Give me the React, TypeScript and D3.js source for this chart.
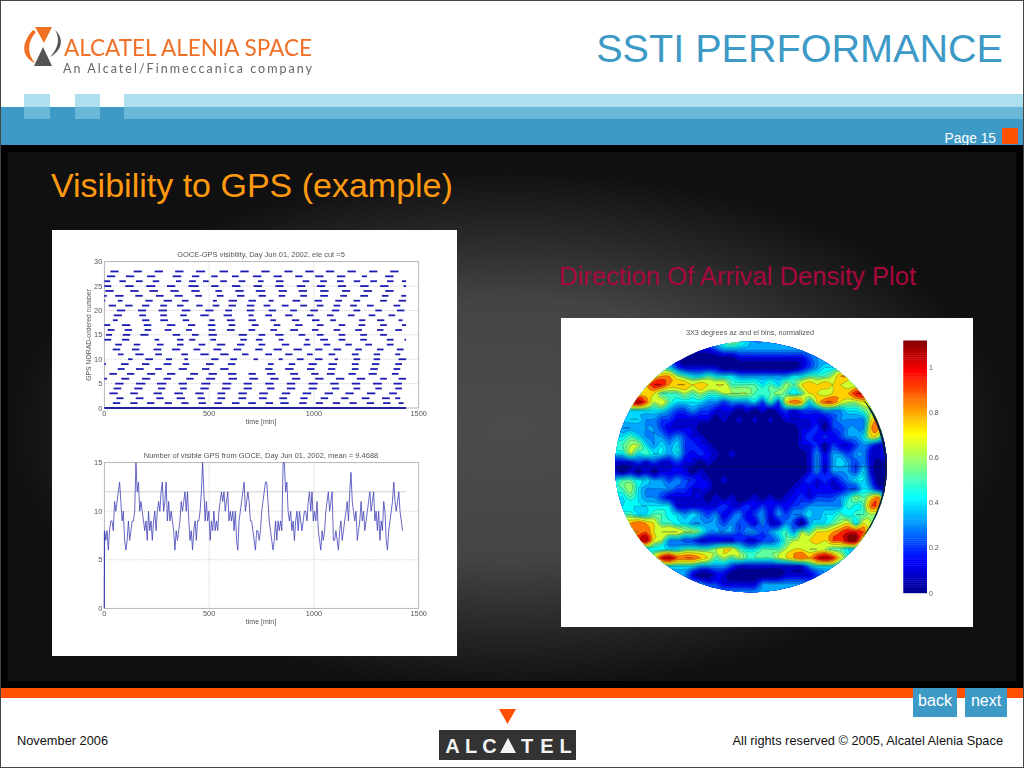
import React from "react";
import * as d3 from "d3";

const FONT = "'Liberation Sans', Arial, sans-serif";

// Satellite number -> flat list of [start, end, start, end ...] visibility windows in minutes
const sat01 = [41,76,124,159,204,239,288,323,368,402,450,485,525,561,609,645,687,723,770,805,840,880,930,965,1009,1043,1090,1125,1170,1204,1252,1287,1330,1365,1404,1428];
const sat02 = [58,92,150,187,248,283,345,385,445,480,540,577,640,677,738,775,835,872,935,970,1032,1068,1130,1165,1228,1265,1325,1362,1388,1412];
const sat03 = [24,64,124,160,235,275,334,375,434,474,540,577,640,680,739,780,847,887,946,987,1051,1091,1150,1190,1253,1293,1359,1396];
const sat04 = [45,81,143,183,256,291,362,394,458,498,561,601,665,704,776,812,871,911,975,1014,1086,1121,1189,1221,1293,1324,1388,1420];
const sat05 = [52,92,151,196,251,296,355,394,463,506,564,606,665,704,768,808,871,911,975,1018,1078,1118,1181,1221,1282,1324,1380,1420];
const sat06 = [0,13,81,119,180,219,283,318,391,426,485,529,593,633,692,733,792,832,895,935,1006,1046,1105,1145,1205,1245,1316,1348,1404,1440];
const sat07 = [24,60,108,143,204,243,299,339,410,447,498,537,590,630,688,723,776,816,887,924,987,1022,1062,1099,1165,1200,1261,1300,1372,1404];
const sat08 = [64,97,151,188,243,275,355,394,466,501,553,593,768,803,863,903,967,1003,1067,1102,1181,1213,1269,1305,1380,1412];
const sat09 = [0,8,80,116,180,215,283,320,374,405,485,522,590,625,781,808,880,911,975,1014,1070,1110,1181,1213,1277,1312,1388,1420];
const sat10 = [113,135,196,232,294,323,382,399,510,545,601,633,712,733,832,851,919,951,1006,1041,1099,1115,1189,1221,1285,1316,1404,1440];
const sat11 = [65,92,148,188,243,275,367,399,458,498,553,593,657,688,768,800,863,898,967,994,1070,1102,1181,1213,1285,1316,1388,1412];
const sat12 = [40,76,132,167,235,272,323,362,426,458,521,558,617,653,720,755,808,847,903,943,1006,1041,1094,1130,1197,1229,1301,1332,1396,1428];
const sat13 = [52,84,140,172,251,283,347,378,450,482,537,577,633,669,736,768,847,882,951,983,1046,1078,1150,1181,1245,1277,1348,1380];
const sat14 = [0,33,84,119,240,262,347,378,405,434,506,533,649,680,723,755,832,855,959,978,1030,1067,1118,1150,1221,1253,1348,1380,1432,1440];
const sat15 = [8,37,88,124,172,211,326,362,418,450,498,537,641,680,736,768,816,855,927,959,1014,1046,1118,1150,1221,1253,1316,1348];
const sat16 = [16,49,97,132,192,224,288,320,390,418,498,530,585,622,688,720,792,824,887,924,991,1022,1094,1126,1197,1229,1301,1332,1388,1420];
const sat17 = [0,28,84,124,188,224,299,339,399,434,494,530,593,625,704,736,808,840,911,946,1014,1046,1118,1150,1213,1245,1316,1348,1420,1440];
const sat18 = [41,64,180,215,267,304,374,405,501,526,585,622,688,723,792,819,895,930,991,1027,1078,1105,1216,1245,1301,1336,1404,1423];
const sat19 = [45,84,167,199,267,299,362,394,458,498,569,609,688,712,768,800,863,898,967,998,1062,1094,1162,1194,1261,1293,1356,1388];
const sat20 = [60,100,161,199,259,299,370,410,482,521,577,609,680,716,784,819,887,919,983,1019,1086,1121,1189,1221,1293,1324,1396,1432];
const sat21 = [21,56,100,135,180,215,267,299,347,378,439,469,517,549,593,628,680,716,760,792,847,879,935,967,1014,1046,1094,1126,1173,1205,1253,1285,1380,1412];
const sat22 = [0,5,65,87,196,231,283,323,370,402,518,537,593,633,688,723,784,808,898,935,1003,1038,1102,1134,1189,1221,1316,1348,1404,1440];
const sat23 = [0,12,52,92,148,183,246,283,335,374,434,466,537,569,633,669,736,771,832,863,935,967,1030,1067,1126,1158,1221,1258,1324,1356,1417,1440];
const sat24 = [5,45,124,164,215,256,315,355,415,455,530,561,625,665,723,768,832,871,927,967,1030,1070,1134,1173,1237,1277,1340,1380];
const sat25 = [0,33,100,140,200,243,299,338,402,450,510,545,609,649,712,752,816,855,919,959,1014,1054,1115,1153,1221,1261,1316,1356,1428,1440];
const sat26 = [0,28,72,103,151,183,231,262,342,367,405,437,471,498,553,585,641,673,733,760,819,855,946,978,1030,1062,1110,1142,1190,1221,1269,1301,1349,1380,1420,1440];
const sat27 = [13,52,103,143,204,243,326,367,418,453,510,541,609,641,709,749,808,847,911,946,1006,1046,1110,1150,1229,1253,1340,1380];
const sat28 = [29,68,140,179,240,280,338,378,438,481,550,590,649,689,749,789,859,898,959,999,1057,1097,1160,1200,1264,1303,1364,1404];
const satellites = [sat01,sat02,sat03,sat04,sat05,sat06,sat07,sat08,sat09,sat10,sat11,sat12,sat13,sat14,sat15,sat16,sat17,sat18,sat19,sat20,sat21,sat22,sat23,sat24,sat25,sat26,sat27,sat28];

// Number of visible GPS, one sample every 6 minutes
const visibleCount = [8,7,8,6,8,9,9,8,11,10,11,12,13,11,9,10,7,6,7,9,7,8,9,9,10,15,12,13,10,11,10,9,8,9,7,10,8,9,7,9,10,8,10,11,10,12,13,10,11,13,9,11,9,10,9,8,6,8,7,8,9,11,10,11,12,10,12,9,7,8,6,8,9,7,9,9,10,12,15,12,9,11,9,10,7,9,8,10,8,9,8,10,11,12,11,12,10,11,12,9,10,9,10,8,10,7,6,9,10,11,12,13,10,11,12,11,9,9,8,7,6,8,8,7,8,10,11,12,13,13,11,9,8,7,6,7,9,7,9,8,9,8,15,15,12,13,10,9,10,8,9,7,9,10,8,10,9,8,9,10,10,9,11,12,10,12,9,10,9,11,8,7,6,8,7,8,10,11,12,10,11,12,7,7,8,7,6,8,9,7,8,9,10,11,9,12,14,11,10,9,10,7,8,9,11,9,10,8,9,10,11,12,10,11,12,9,10,8,10,7,9,8,11,10,7,6,8,9,10,11,13,11,10,11,12,10,9,8];
const sampleMinutes = 6;

const density = [
[3,3,3,3,3,3,3,3,3,3,3,3,3,4,5,6,5,4,3,3,3,3,3,3,3,3,3,3,3,3,3,3,3,3,3,3],
[3,3,3,3,3,3,3,3,3,1,1,1,1,2,3,3,3,3,3,3,3,3,3,3,3,3,3,3,3,3,3,3,3,3,3,3],
[3,3,3,3,3,3,3,3,1,0,0,0,0,0,0,0,1,1,1,1,1,1,1,1,1,2,3,3,3,3,3,3,3,3,3,3],
[4,4,4,4,4,5,5,4,2,1,1,1,1,1,0,0,0,0,0,0,0,0,0,0,1,2,3,4,4,5,6,6,4,4,4,4],
[6,6,6,6,7,7,8,8,6,5,4,4,5,4,4,4,3,3,3,3,3,3,3,4,4,5,5,5,6,8,8,6,5,4,4,4],
[7,7,7,7,8,10,10,8,8,8,7,8,7,7,7,5,5,5,5,4,5,4,6,5,7,8,7,8,7,7,6,6,5,5,4,4],
[8,8,7,7,7,7,5,5,5,6,5,6,5,5,6,6,6,6,5,5,5,6,5,4,5,7,7,6,7,8,8,10,10,7,5,5],
[9,9,10,11,9,6,7,5,4,4,4,4,3,3,2,3,3,3,4,2,5,2,7,9,8,4,7,9,9,7,6,6,7,7,5,5],
[5,5,4,4,4,4,4,3,2,2,3,2,2,1,1,1,0,1,0,1,0,1,2,1,2,2,2,3,3,3,4,4,5,6,6,6],
[5,4,4,4,3,3,2,2,1,1,1,1,1,0,1,0,1,0,1,0,1,0,1,1,1,1,1,1,2,3,3,3,3,7,8,3],
[4,3,3,3,3,3,2,1,1,1,1,0,0,0,0,0,0,0,0,0,0,0,0,0,1,1,2,0,2,2,3,3,3,8,8,3],
[4,4,5,4,3,3,3,2,3,2,1,1,0,0,0,0,0,0,0,0,0,0,0,0,1,2,1,2,1,2,3,3,4,7,6,2],
[5,5,6,6,4,3,4,3,4,2,2,1,1,0,0,0,0,0,0,0,0,0,0,0,1,1,2,0,2,1,1,2,3,2,1,2],
[4,4,6,4,5,4,4,3,4,2,1,2,1,1,0,1,0,0,0,0,0,0,0,0,0,1,3,1,3,3,2,3,3,1,1,2],
[1,1,1,2,1,2,1,1,2,1,1,0,1,0,0,0,0,0,0,0,0,0,0,0,0,1,3,1,3,4,3,2,3,1,0,1],
[1,0,1,0,1,0,1,1,1,1,0,1,0,0,0,0,0,0,0,0,0,0,0,0,0,1,3,1,3,3,3,2,4,1,0,1],
[4,5,5,4,4,3,3,2,3,2,2,1,1,0,1,0,0,0,0,0,0,0,0,0,1,2,1,2,1,2,3,4,4,2,0,1],
[5,5,6,4,3,3,3,3,2,2,1,1,1,0,0,0,0,0,0,0,0,0,0,1,1,1,1,1,1,1,2,2,4,3,1,1],
[4,4,5,4,3,3,2,1,1,1,1,1,0,1,0,1,0,0,1,0,1,0,1,1,2,1,2,2,2,3,4,6,5,7,8,2],
[4,4,4,4,4,4,4,4,1,1,1,1,1,1,2,1,1,2,1,2,1,2,1,2,2,3,3,3,3,3,5,4,5,9,8,2],
[5,5,5,4,4,5,5,4,4,3,4,3,2,3,1,2,3,1,2,3,1,3,2,3,3,4,3,4,4,5,4,5,5,6,5,3],
[8,8,8,9,8,7,5,5,4,4,3,3,3,3,2,3,2,2,1,3,1,1,3,2,0,3,4,4,5,6,7,4,7,6,4,3],
[8,8,8,8,9,7,7,7,7,6,6,5,3,3,3,3,2,3,3,2,3,4,5,3,6,5,7,7,8,9,10,10,9,5,4,3],
[9,9,9,10,11,7,6,3,3,2,2,1,1,1,1,1,2,1,1,2,2,3,5,6,6,7,8,7,9,9,11,11,6,5,4,3],
[4,4,4,4,4,4,4,4,4,5,5,5,5,6,7,7,5,4,4,5,5,5,6,7,7,6,6,6,5,5,4,4,4,3,3,3],
[5,5,5,5,6,7,10,11,9,9,9,8,7,5,6,5,6,5,5,5,5,6,7,8,9,8,10,11,10,7,5,4,4,4,4,4],
[4,4,4,4,4,4,4,4,4,4,4,3,3,3,3,2,1,1,1,1,1,1,1,1,1,3,4,4,4,3,3,3,3,3,3,3],
[3,3,3,3,3,3,3,3,3,3,1,0,0,1,1,0,0,0,0,0,0,0,1,1,1,1,2,3,3,3,3,3,3,3,3,3],
[3,3,3,3,3,3,3,3,3,3,3,3,2,2,1,1,1,1,1,3,3,3,3,3,3,3,3,3,3,3,3,3,3,3,3,3],
[3,3,3,3,3,3,3,3,3,3,3,3,3,3,3,3,3,3,3,3,3,3,3,3,3,3,3,3,3,3,3,3,3,3,3,3],
];
const contourLevels = [0.5,1,1.5,2,2.5,3,3.5,4,4.5,5,5.5,6,7,8,9,10,11];
const colorbarTicks = [0,0.2,0.4,0.6,0.8,1];
const colorbarMax = 1.12;
const jetStops = ["#00008f","#0000ff","#00ffff","#ffff00","#ff0000","#800000"];
const jetPositions = [0,1/8,3/8,5/8,7/8,1];

const timeTicks = [0,500,1000,1500];
const satTicks = [0,5,10,15,20,25,30];
const countTicks = [0,5,10,15];
const logoLetters = ["A","L","C","T","E","L"];
const logoLetterX = [452.5,471,489.5,527,547,565.5];

const BLUE = "#3d9ac6";
const ORANGE = "#ff5000";

const jet = d3.scaleLinear<string>().domain(jetPositions.map(p => p * colorbarMax)).range(jetStops).clamp(true);

// Catmull-Rom resampling of the density grid so that its contours are round, not polygonal
function catmull(a: number, b: number, c: number, d: number, t: number) {
  return 0.5 * (2 * b + (c - a) * t + (2 * a - 5 * b + 4 * c - d) * t * t + (3 * b - a - 3 * c + d) * t * t * t);
}
function resample(grid: number[][], f: number) {
  const rows = grid.length, cols = grid[0].length;
  const get = (r: number, c: number) => grid[Math.max(0, Math.min(rows - 1, r))][Math.max(0, Math.min(cols - 1, c))];
  const w = (cols - 1) * f + 1, h = (rows - 1) * f + 1;
  const out: number[] = [];
  for (let j = 0; j < h; j++) {
    const r = Math.floor(j / f), tr = j / f - r;
    for (let i = 0; i < w; i++) {
      const c = Math.floor(i / f), tc = i / f - c;
      const col = [-1, 0, 1, 2].map(dr => catmull(get(r + dr, c - 1), get(r + dr, c), get(r + dr, c + 1), get(r + dr, c + 2), tc));
      out.push(catmull(col[0], col[1], col[2], col[3], tr));
    }
  }
  return { w, h, out };
}

function Frame({ x, y, xTicks, yTicks, title, titleY, ink = "#555" }: any) {
  const [x0, x1] = x.range();
  const [y0, y1] = y.range();
  return (
    <g fontFamily={FONT} fill={ink} fontSize={7.4}>
      {xTicks.slice(1, -1).map((t: number) => <line key={t} x1={x(t)} x2={x(t)} y1={y0} y2={y1} stroke="#bbb" strokeWidth={0.6} strokeDasharray="1.2 1" />)}
      {yTicks.slice(1, -1).map((t: number) => <line key={t} x1={x0} x2={x1} y1={y(t)} y2={y(t)} stroke="#bbb" strokeWidth={0.6} strokeDasharray="1.2 1" />)}
      <rect x={x0} y={y1} width={x1 - x0} height={y0 - y1} fill="none" stroke="#999" strokeWidth={0.7} />
      {xTicks.map((t: number) => <text key={t} x={x(t)} y={y0 + 7.5} textAnchor="middle">{t}</text>)}
      {yTicks.map((t: number) => <text key={t} x={x0 - 2} y={y(t) + 2.5} textAnchor="end">{t}</text>)}
      <text x={(x0 + x1) / 2 - 0.5} y={y0 + 15.5} textAnchor="middle" fontSize={7}>time [min]</text>
      <text x={(x0 + x1) / 2 - 0.5} y={titleY} textAnchor="middle" fontSize={7.5}>{title}</text>
    </g>
  );
}

function VisibilityChart() {
  const x = d3.scaleLinear().domain([0, 1500]).range([104.3, 418.7]);
  const y = d3.scaleLinear().domain([0, 30]).range([408, 261.7]);
  return (
    <g>
      <Frame x={x} y={y} xTicks={timeTicks} yTicks={satTicks} title="GOCE-GPS visibility, Day Jun 01, 2002, ele cut =5" titleY={257} />
      {satellites.map((windows, i) =>
        d3.range(0, windows.length, 2).map(k => (
          <line key={`${i}-${k}`} x1={x(windows[k])} x2={x(windows[k + 1])} y1={y(i + 1)} y2={y(i + 1)} stroke="#1c1cb4" strokeWidth={1.8} />
        ))
      )}
      <line x1={x(0)} x2={x(1440)} y1={y(0)} y2={y(0)} stroke="#2020a0" strokeWidth={2} />
      <text transform={`translate(90.5,335) rotate(-90)`} textAnchor="middle" fontFamily={FONT} fontSize={6.8} fill="#555">GPS NORAD-ordered number</text>
    </g>
  );
}

function CountChart() {
  const x = d3.scaleLinear().domain([0, 1500]).range([104.3, 418.7]);
  const y = d3.scaleLinear().domain([0, 15]).range([608.3, 462.7]);
  const line = d3.line<number>().x((_, i) => x(i * sampleMinutes + 1)).y(v => y(v));
  return (
    <g>
      <Frame x={x} y={y} xTicks={timeTicks} yTicks={countTicks} title="Number of visible GPS from GOCE, Day Jun 01, 2002, mean = 9.4688" titleY={458} />
      <line x1={x(0)} x2={x(1440)} y1={y(12)} y2={y(12)} stroke="#bbb" strokeWidth={0.7} />
      <path d={`M${x(0)},${y(0)}L${x(1)},${y(visibleCount[0])}`} stroke="#4040b8" strokeWidth={1.2} fill="none" />
      <path d={line(visibleCount) ?? ""} stroke="#4040b8" strokeWidth={0.8} fill="none" />
    </g>
  );
}

function DensityPlot() {
  const cx = 751, cy = 467, rx = 136, ry = 125.5;
  const f = 2;
  const { w, h, out } = resample(density, f);
  const gx = d3.scaleLinear().domain([0.5, w - 0.5]).range([cx - rx, cx + rx]);
  const gy = d3.scaleLinear().domain([0.5, h - 0.5]).range([cy - ry, cy + ry]);
  const contours = d3.contours().size([w, h]).thresholds(contourLevels)(out);
  const path = d3.geoPath(d3.geoTransform({
    point(px: number, py: number) { (this as any).stream.point(gx(px), gy(py)); },
  }));
  const cb = d3.scaleLinear().domain([0, colorbarMax]).range([593, 340.7]);
  const bins = d3.range(0, colorbarMax, colorbarMax / 120);
  return (
    <g>
      <defs>
        <clipPath id="disc"><ellipse cx={cx} cy={cy} rx={rx} ry={ry} /></clipPath>
      </defs>
      <g clipPath="url(#disc)">
        <rect x={cx - rx} y={cy - ry} width={2 * rx} height={2 * ry} fill={jet(0)} />
        {contours.map((c, i) => {
          const next = contourLevels[i + 1] ?? c.value + 1;
          return <path key={c.value} d={path(c as any) ?? ""} fill={jet(((c.value + next) / 2) / 10)} stroke="#102030" strokeWidth={0.35} strokeOpacity={0.7} />;
        })}
        <path d={`M862,398A${rx},${ry} 0 0 1 862,538A170,125 0 0 0 862,398Z`} fill="#0a1a3a" />
        <line x1={cx - rx} x2={cx + rx} y1={466.5} y2={466.5} stroke="#102040" strokeWidth={0.4} />
      </g>
      <text x={750} y={335} textAnchor="middle" fontFamily={FONT} fontSize={7.3} fill="#555">3X3 degrees az and el bins, normalized</text>
      {bins.map(v => <rect key={v} x={903.3} width={23.7} y={cb(v + colorbarMax / 120) - 0.2} height={cb(v) - cb(v + colorbarMax / 120) + 0.4} fill={jet(v)} />)}
      {colorbarTicks.map(t => (
        <text key={t} x={929} y={cb(t) + 2.5} fontFamily={FONT} fontSize={7} fill="#555">{t}</text>
      ))}
    </g>
  );
}

function Chrome() {
  return (
    <g>
      <rect width={1024} height={768} fill="#fff" />
      <rect x={124} y={94} width={900} height={13} fill="#aedfee" />
      <rect x={24} y={94} width={26} height={13} fill="#aedfee" />
      <rect x={75} y={94} width={25} height={13} fill="#aedfee" />
      <rect x={0} y={107} width={1024} height={38} fill={BLUE} />
      <rect x={124} y={107} width={900} height={12} fill="#6bb7d8" />
      <rect x={24} y={107} width={26} height={12} fill="#6bb7d8" />
      <rect x={75} y={107} width={25} height={12} fill="#6bb7d8" />
      <rect x={1002} y={128} width={16} height={16} fill={ORANGE} />
      <text x={996} y={143} textAnchor="end" fontFamily={FONT} fontSize={13.8} fill="#fff">Page 15</text>
      <rect x={0} y={145} width={1024} height={543} fill="#000" />
      <rect x={8} y={152} width={1008} height={529} fill="url(#glow)" />
      <g filter="url(#soft)">
        <polygon points="35,27 52,27 44,43" fill="#f07028" />
        <polygon points="34,66 52,66 43,47" fill="#555" />
        <path d="M33,30 C22,42 20,56 35,63 C27,54 27,42 36,32 Z" fill="#f07028" />
        <path d="M55,30 C64,38 63,50 50,57 C59,48 60,38 55,30 Z" fill="#555" />
        <text x={64} y={56} fontFamily="Lato, 'Open Sans', sans-serif" fontSize={23.5} fill="#f07028" textLength={248} lengthAdjust="spacingAndGlyphs">ALCATEL ALENIA SPACE</text>
        <text x={63} y={73} fontFamily="Lato, 'Open Sans', sans-serif" fontSize={12.5} fill="#666" textLength={249} lengthAdjust="spacing">An Alcatel/Finmeccanica company</text>
      </g>
      <text x={1003} y={62} textAnchor="end" fontFamily={FONT} fontSize={39.6} fill={BLUE}>SSTI PERFORMANCE</text>
      <text x={51} y={197} fontFamily={FONT} fontSize={34} fill="#ff9a10">Visibility to GPS (example)</text>
      <text x={559} y={285} fontFamily={FONT} fontSize={25.6} fill="#a8083c">Direction Of Arrival Density Plot</text>
      <rect x={0} y={688} width={1024} height={10} fill={ORANGE} />
      <rect x={913} y={688} width={44} height={29} fill={BLUE} />
      <rect x={965} y={688} width={42} height={29} fill={BLUE} />
      <text x={935} y={706} textAnchor="middle" fontFamily={FONT} fontSize={16} fill="#fff">back</text>
      <text x={986} y={706} textAnchor="middle" fontFamily={FONT} fontSize={16} fill="#fff">next</text>
      <polygon points="499,709 516,709 507.5,724" fill={ORANGE} />
      <rect x={439} y={730} width={137} height={30} fill="#333" />
      {logoLetters.map((l, i) => (
        <text key={i} x={logoLetterX[i]} y={753} textAnchor="middle" fontFamily={FONT} fontWeight={700} fontSize={20} fill="#f4f4f4">{l}</text>
      ))}
      <polygon points="500,753 516,753 508,738" fill="#f4f4f4" />
      <text x={17} y={745} fontFamily={FONT} fontSize={12.8} fill="#111">November 2006</text>
      <text x={1003} y={745} textAnchor="end" fontFamily={FONT} fontSize={12.8} fill="#111">All rights reserved © 2005, Alcatel Alenia Space</text>
      <rect x={0.5} y={0.5} width={1023} height={767} fill="none" stroke="#444" strokeWidth={1} />
    </g>
  );
}

export default function App() {
  return (
    <svg width={1024} height={768} viewBox="0 0 1024 768" style={{ position: "absolute", left: 0, top: 0, display: "block" }}>
      <defs>
        <radialGradient id="glow" gradientUnits="userSpaceOnUse" cx={510} cy={430} r={500} gradientTransform="translate(510 430) scale(1 0.52) translate(-510 -430)">
          <stop offset="0" stopColor="#4c4c4c" />
          <stop offset="0.5" stopColor="#444" />
          <stop offset="0.78" stopColor="#262626" />
          <stop offset="1" stopColor="#101010" />
        </radialGradient>
        <filter id="soft" x="-5%" y="-5%" width="110%" height="110%"><feGaussianBlur stdDeviation="0.35" /></filter>
        <filter id="blur" x="-2%" y="-2%" width="104%" height="104%"><feGaussianBlur stdDeviation="0.4" /></filter>
      </defs>
      <Chrome />
      <rect x={52} y={230} width={405} height={426} fill="#fff" />
      <rect x={561} y={318} width={412} height={309} fill="#fff" />
      <g filter="url(#blur)">
        <VisibilityChart />
        <CountChart />
        <DensityPlot />
      </g>
    </svg>
  );
}
